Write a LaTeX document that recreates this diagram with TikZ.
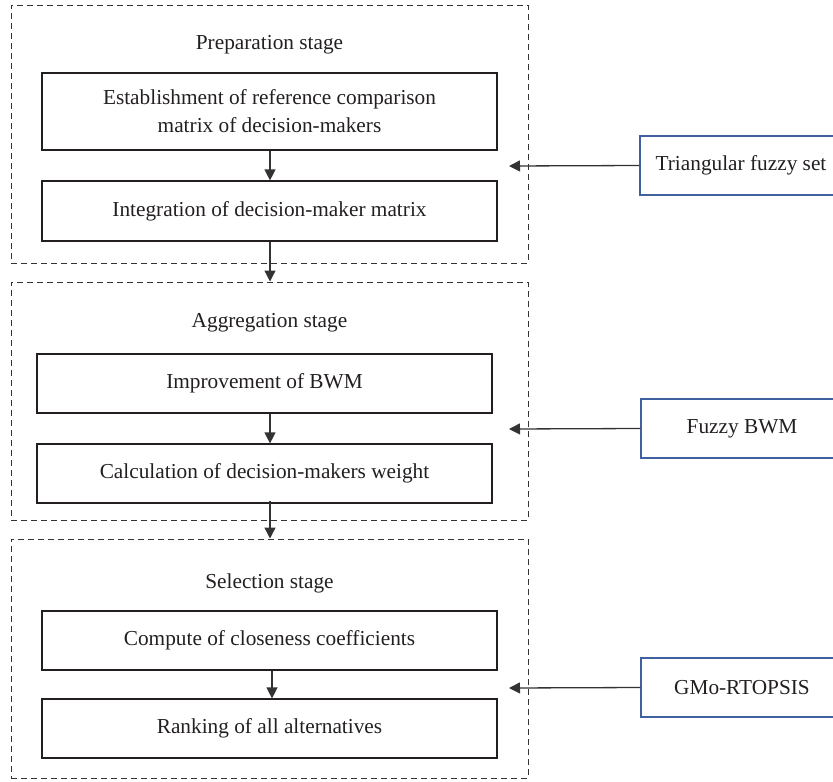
\documentclass[tikz,border=0pt]{standalone}
\usepackage{fontspec}
\setmainfont{Liberation Serif}
\usetikzlibrary{arrows.meta}
\definecolor{ink}{HTML}{231F20}
\definecolor{lin}{HTML}{333333}
\definecolor{blu}{HTML}{41609F}
\tikzset{
  stagebox/.style={draw=lin, line width=1pt, dash pattern=on 6pt off 4pt, minimum width=517pt, inner sep=0pt},
  stepbox/.style={draw=ink, line width=1.2pt, minimum width=455pt, inner sep=0pt, align=center, text=ink},
  toolbox/.style={draw=blu, line width=1.2pt, minimum width=202pt, minimum height=59pt, inner sep=0pt, text=ink},
  titletext/.style={text=ink, inner sep=0pt},
  arr/.style={draw=lin, line width=1.3pt, -{Triangle[length=11pt,width=11pt]}}
}
\begin{document}
\begin{tikzpicture}[x=1pt,y=-1pt, every node/.style={font=\fontsize{21.3}{28}\selectfont}]
\useasboundingbox (0,0) rectangle (833,782);
% stage frames
\node[stagebox, minimum height=258pt] (st1) at (269.5,134) {};
\node[stagebox, minimum height=238pt] (st2) at (269.5,401) {};
\node[stagebox, minimum height=239pt] (st3) at (269.5,658.5) {};
% titles
\node[titletext] (t1) at (269.5,45) {Preparation stage};
\node[titletext] (t2) at (269.5,323) {Aggregation stage};
\node[titletext] (t3) at (269.5,583) {Selection stage};
% steps
\node[stepbox, minimum height=77pt] (b1) at (269.5,111.5) {Establishment of reference comparison\\matrix of decision-makers};
\node[stepbox, minimum height=60pt] (b2) at (269.5,211) {Integration of decision-maker matrix};
\node[stepbox, minimum height=59pt] (b3) at (264.5,383.5) {Improvement of BWM};
\node[stepbox, minimum height=59pt] (b4) at (264.5,473.5) {Calculation of decision-makers weight};
\node[stepbox, minimum height=59pt] (b5) at (269.5,640.5) {Compute of closeness coefficients};
\node[stepbox, minimum height=59pt] (b6) at (269.5,728.5) {Ranking of all alternatives};
% tools
\node[toolbox] (m1) at (741,165.5) {Triangular fuzzy set};
\node[toolbox] (m2) at (742,428.5) {Fuzzy BWM};
\node[toolbox] (m3) at (742,687.5) {GMo-RTOPSIS};
% arrow columns and side tips
\coordinate (ax1) at (270,0);
\coordinate (ax2) at (270,0);
\coordinate (ax3) at (272,0);
\coordinate (e1) at (509,166);
\coordinate (e2) at (509,429);
\coordinate (e3) at (509,688);
% vertical arrows
\draw[arr] (b1.south -| ax1) -- (b2.north -| ax1);
\draw[arr] (b2.south -| ax1) -- (st2.north -| ax1);
\draw[arr] (b3.south -| ax2) -- (b4.north -| ax2);
\draw[arr] ([yshift=3pt]b4.south -| ax2) -- (st3.north -| ax2);
\draw[arr] (b5.south -| ax3) -- (b6.north -| ax3);
% side arrows
\draw[arr] (m1.west) -- (e1);
\draw[arr] (m2.west) -- (e2);
\draw[arr] (m3.west) -- (e3);
\end{tikzpicture}
\end{document}
